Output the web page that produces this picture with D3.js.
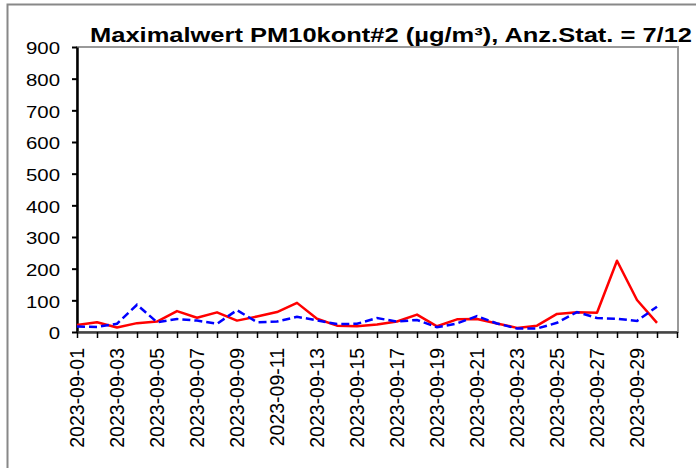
<!DOCTYPE html>
<html>
<head>
<meta charset="utf-8">
<script src="https://cdn.jsdelivr.net/npm/d3@7/dist/d3.min.js"></script>
<style>
  html, body { margin: 0; padding: 0; background: #fff; }
  svg { display: block; }
  text { font-family: "Liberation Sans", Arial, sans-serif; fill: #000; }
</style>
</head>
<body>
<svg id="chart" width="696" height="468"></svg>
<script>
// Daily maximum PM10 values, September 2023
const dates = d3.range(1, 31).map(d => "2023-09-" + String(d).padStart(2, "0"));
const seriesRed  = [22, 31, 14, 28, 33, 66, 45, 62, 36, 49, 63, 92, 42, 20, 18, 24, 33, 55, 18, 40, 41, 27, 13, 20, 57, 62, 61, 225, 101, 29];
const seriesBlue = [17, 16, 26, 86, 31, 41, 36, 26, 69, 31, 33, 48, 37, 25, 26, 44, 33, 38, 15, 27, 50, 27, 11, 11, 29, 63, 44, 42, 35, 80];
const yTicks = [0, 100, 200, 300, 400, 500, 600, 700, 800, 900];
const titleText = "Maximalwert PM10kont#2 (µg/m³), Anz.Stat. = 7/12";

const svg = d3.select("#chart");
const plotLeft = 77, plotRight = 677, plotTop = 47, plotBottom = 332;
const stretch = 1.2; // text is drawn slightly wide

// outer chart frame (extends past the right and bottom edges)
svg.append("rect")
  .attr("x", 7.5).attr("y", 4.5).attr("width", 720).attr("height", 500)
  .attr("fill", "none").attr("stroke", "#888").attr("stroke-width", 2);

const x = d3.scaleLinear().domain([0, dates.length]).range([plotLeft, plotRight]);
const y = d3.scaleLinear().domain([0, 900]).range([plotBottom, plotTop]);

// plot area border
svg.append("rect")
  .attr("x", plotLeft).attr("y", plotTop).attr("width", plotRight - plotLeft + 1).attr("height", plotBottom - plotTop)
  .attr("fill", "none").attr("stroke", "#999").attr("stroke-width", 2);

// title
svg.append("text")
  .attr("x", 90).attr("y", 42)
  .attr("font-size", 21).attr("font-weight", "bold")
  .attr("textLength", 602).attr("lengthAdjust", "spacingAndGlyphs")
  .text(titleText);

// y axis
const yAxis = svg.append("g").attr("transform", `translate(${plotLeft},0)`)
  .call(d3.axisLeft(y).tickValues(yTicks).tickSize(5).tickSizeOuter(0));
yAxis.select(".domain").attr("stroke", "#000").attr("stroke-width", 2.5);
yAxis.selectAll(".tick line").attr("stroke", "#000").attr("stroke-width", 2);
yAxis.selectAll(".tick text")
  .attr("font-size", 17).attr("font-family", "Liberation Sans, Arial, sans-serif")
  .attr("x", -17 / stretch).attr("dy", "0.4em")
  .attr("transform", `scale(${stretch},1)`);

// x axis
const xAxis = svg.append("g").attr("transform", `translate(0,${plotBottom})`)
  .call(d3.axisBottom(x)
    .tickValues(d3.range(dates.length + 1))
    .tickFormat(i => (i % 2 === 0 && i < dates.length) ? dates[i] : "")
    .tickSize(6).tickSizeOuter(0));
xAxis.select(".domain").attr("stroke", "#444").attr("stroke-width", 2.5);
xAxis.selectAll(".tick line").attr("stroke", "#000").attr("stroke-width", 1.5);
xAxis.selectAll(".tick text")
  .attr("font-size", 19.5).attr("font-family", "Liberation Sans, Arial, sans-serif")
  .attr("transform", "rotate(-90)")
  .attr("text-anchor", "end")
  .attr("x", -16).attr("y", 0).attr("dy", "0.35em");

const line = d3.line().x((d, i) => x(i)).y(d => y(d));

svg.append("path").datum(seriesRed)
  .attr("d", line).attr("fill", "none")
  .attr("stroke", "#ff0000").attr("stroke-width", 2.5).attr("stroke-linejoin", "round");

svg.append("path").datum(seriesBlue)
  .attr("d", line).attr("fill", "none")
  .attr("stroke", "#0000ff").attr("stroke-width", 2.5).attr("stroke-dasharray", "8,4");
</script>
</body>
</html>
